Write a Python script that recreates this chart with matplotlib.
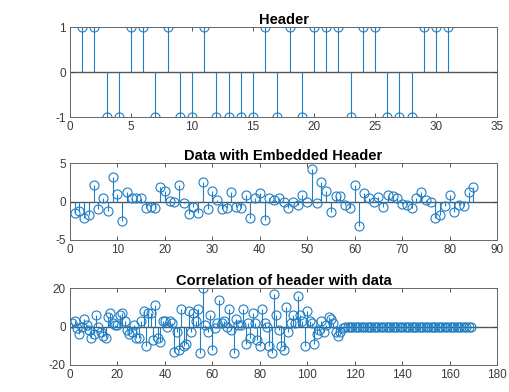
import numpy as np
from matplotlib import pyplot as plt

plt.rcParams['font.family'] = ['Liberation Sans', 'DejaVu Sans']
plt.rcParams['axes.unicode_minus'] = False

# header bits (index 1..31)
header = [1, 1, -1, -1, 1, 1, -1, 1, -1, -1, 1, -1, -1, -1, -1, 1,
          -1, 1, -1, 1, 1, 1, -1, 1, 1, -1, -1, -1, 1, 1, 1]

# data with embedded header (index 1..85)
data = [-1.5, -1.2, -2.1, -1.7, 2.2, -1.0, 0.5, -1.2, 3.2, 1.0,
        -2.5, 1.2, 0.4, 0.5, 0.5, -0.8, -0.7, -0.8, 1.9, 1.4,
        0.1, -0.1, 2.1, -0.2, -1.6, -0.7, -1.5, 2.5, -1.0, 1.4,
        0.2, -1.0, -0.8, 1.2, -0.7, -0.8, 0.9, -2.1, 0.4, 1.1,
        -2.4, 0.5, 0.2, 0.4, 0.0, -0.8, -0.1, -0.4, 0.8, 0.0,
        4.3, -0.2, 2.5, 1.4, -1.3, 0.7, 0.7, -0.5, -0.8, 2.1,
        -3.2, 1.1, 0.4, -0.1, 0.6, -0.7, 0.9, 0.7, 0.4, -0.3,
        -0.4, -0.9, 0.4, 1.3, 0.2, -0.1, -2.1, -1.8, -0.6, 0.8,
        -1.3, -0.4, -0.6, 1.3, 1.9]

# correlation (index 1..169), nonzero part
corr_head = [2, 3, -1, -4, 0, 4, 1, -2, -6, -4,
             6, 0, -3, -5, -6, 5, 7, 2, 1, 1,
             6, 7, 3, -2, -4, -3, 1, -6, -6, 3,
             8, -10, 7, 7, -7, 11, -6, -8, 3, 3,
             0, 3, 2, -13, -3, -12, 9, -10, -9, 8,
             -3, 7, 3, 9, -14, 20, 1, -3, 6, -12,
             -1, 2, 14, 2, 3, 0, 9, -2, -14, 4,
             1, 1, 9, -9, 2, -6, 7, 2, -7, -10,
             9, 2, 0, -10, -14, 17, 6, -2, -10, -12,
             10, -3, 2, 6, 2, 16, 6, 3, -10, 8,
             3, 2, -9, -4, -2, 3, -3, 1, 5, 4,
             2, -3, -5, -3, -1]
corr = corr_head + [0] * (169 - len(corr_head))

blue = '#1f7fc6'
gray = '#3a3a3a'

fig = plt.figure(figsize=(5.09, 3.92), dpi=100)

def stemplot(pos, y, xlim, ylim, yticks, title):
    ax = fig.add_axes(pos)
    x = np.arange(1, len(y) + 1)
    ml, sl, bl = ax.stem(x, y, basefmt=' ')
    plt.setp(sl, color=blue, linewidth=0.8)
    plt.setp(ml, color=blue, markerfacecolor='none', markersize=6.5, markeredgewidth=0.8)
    ax.axhline(0, color='#555555', linewidth=1.0, zorder=1)
    ax.set_xlim(xlim)
    ax.set_ylim(ylim)
    ax.set_yticks(yticks)
    ax.set_title(title, fontsize=10.5, fontweight='bold', color='black', pad=2)
    ax.tick_params(direction='in', top=True, right=True, labelsize=8.5,
                   colors=gray, length=3, width=0.6, pad=3)
    for s in ax.spines.values():
        s.set_color('#666666')
        s.set_linewidth(0.7)
    return ax

stemplot([0.1375, 0.7015, 0.839, 0.2296], header, (0, 35), (-1, 1), [-1, 0, 1], 'Header')
stemplot([0.1375, 0.3878, 0.839, 0.196], data, (0, 90), (-5, 5), [-5, 0, 5], 'Data with Embedded Header')
stemplot([0.1375, 0.0689, 0.839, 0.196], corr, (0, 180), (-20, 20), [-20, 0, 20], 'Correlation of header with data')

fig.savefig('out.png', dpi=100)
